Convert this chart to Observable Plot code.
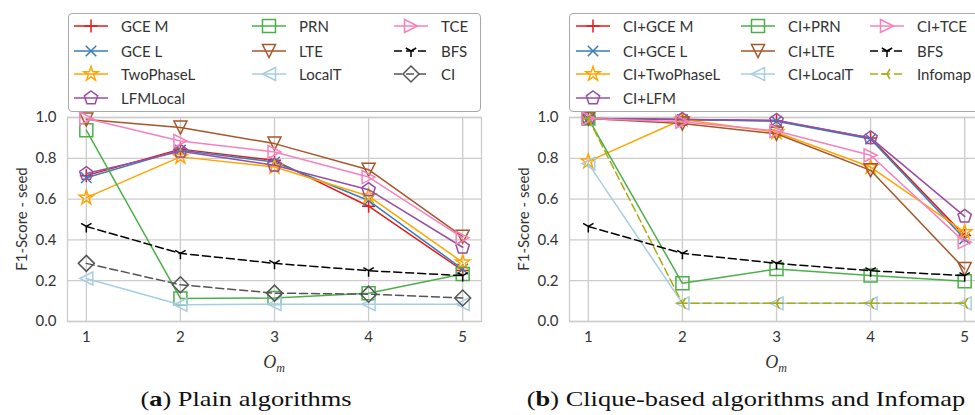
<!DOCTYPE html>
<html>
<head>
<meta charset="utf-8">
<script src="https://cdn.jsdelivr.net/npm/d3@7"></script>
<script src="https://cdn.jsdelivr.net/npm/@observablehq/plot@0.6"></script>
<style>
  html, body { margin: 0; padding: 0; background: #fff; }
  #root { position: relative; width: 975px; height: 415px; overflow: hidden; font-family: Lato, "DejaVu Sans", sans-serif; color: #333; }
  .panel { position: absolute; top: 0; }
  .legend { position: absolute; border: 1px solid #a8a8a8; border-radius: 4px; background: #fff; box-sizing: border-box; }
  .entry { position: absolute; height: 18px; display: flex; align-items: center; font-size: 15px; white-space: nowrap; color: #333; }
  .entry svg { overflow: visible; }
  .xlab { position: absolute; font-family: "Liberation Serif", serif; font-style: italic; font-size: 18px; color: #333; transform: translate(-50%, -50%); }
  .xlab sub { font-size: 12px; }
  .ylab { position: absolute; font-size: 15px; color: #333; white-space: nowrap; transform: translate(-50%, -50%) rotate(-90deg); }
  .cap { position: absolute; font-family: "Liberation Serif", "DejaVu Serif", serif; font-size: 22px; color: #111; transform: translate(-50%, -50%) scaleX(1.2); white-space: nowrap; }
</style>
</head>
<body>
<div id="root"></div>
<script>
// ---------- data ----------
const om = [1, 2, 3, 4, 5];
const yTicks = [0, 0.2, 0.4, 0.6, 0.8, 1.0];

// (a) Plain algorithms
const plainNames = ["GCE M", "GCE L", "TwoPhaseL", "LFMLocal", "PRN", "LTE", "LocalT", "TCE", "BFS", "CI"];
const plainGceM      = [0.715, 0.845, 0.790, 0.565, 0.250];
const plainGceL      = [0.705, 0.840, 0.782, 0.593, 0.257];
const plainTwoPhaseL = [0.607, 0.807, 0.757, 0.615, 0.290];
const plainLFMLocal  = [0.725, 0.834, 0.766, 0.646, 0.364];
const plainPRN       = [0.938, 0.113, 0.115, 0.139, 0.233];
const plainLTE       = [0.990, 0.951, 0.872, 0.744, 0.416];
const plainLocalT    = [0.211, 0.082, 0.085, 0.085, 0.085];
const plainTCE       = [0.995, 0.885, 0.831, 0.708, 0.410];
const bfsValues      = [0.466, 0.334, 0.285, 0.249, 0.225];
const plainCI        = [0.285, 0.180, 0.139, 0.134, 0.115];

// (b) Clique-based algorithms and Infomap
const cliqueNames = ["CI+GCE M", "CI+GCE L", "CI+TwoPhaseL", "CI+LFM", "CI+PRN", "CI+LTE", "CI+LocalT", "CI+TCE", "BFS", "Infomap"];
const ciGceM      = [0.995, 0.990, 0.984, 0.900, 0.421];
const ciGceL      = [0.995, 0.990, 0.982, 0.895, 0.405];
const ciTwoPhaseL = [0.785, 0.990, 0.928, 0.757, 0.438];
const ciLFM       = [0.995, 0.990, 0.986, 0.900, 0.515];
const ciPRN       = [0.995, 0.187, 0.257, 0.225, 0.197];
const ciLTE       = [0.995, 0.970, 0.920, 0.741, 0.257];
const ciLocalT    = [0.774, 0.089, 0.089, 0.089, 0.089];
const ciTCE       = [0.995, 0.979, 0.934, 0.815, 0.389];
const infomap     = [0.995, 0.089, 0.089, 0.089, 0.089];

// ---------- styles ----------
const colors = ["#e41a1c", "#377eb8", "#ffa500", "#984ea3", "#4daf4a", "#a65628", "#a6cee3", "#f781bf", "#000000"];
const ciColor = "#555555";
const infomapColor = "#aaaa11";

const sym = (f) => ({ draw(ctx, size) { f(ctx, Math.sqrt(size / Math.PI)); } });
const symPlus = sym((c, r) => { c.moveTo(-r, 0); c.lineTo(r, 0); c.moveTo(0, -r); c.lineTo(0, r); });
const symX = sym((c, r) => { const k = r * 0.75; c.moveTo(-k, -k); c.lineTo(k, k); c.moveTo(-k, k); c.lineTo(k, -k); });
const symStar = sym((c, r) => {
  const ri = r * 0.382;
  for (let i = 0; i < 10; i++) {
    const a = -Math.PI / 2 + i * Math.PI / 5, rr = i % 2 ? ri : r;
    const x = rr * Math.cos(a), y = rr * Math.sin(a);
    i ? c.lineTo(x, y) : c.moveTo(x, y);
  }
  c.closePath();
});
const symPent = sym((c, r) => {
  for (let i = 0; i < 5; i++) {
    const a = -Math.PI / 2 + i * 2 * Math.PI / 5;
    const x = r * Math.cos(a), y = r * Math.sin(a);
    i ? c.lineTo(x, y) : c.moveTo(x, y);
  }
  c.closePath();
});
const symSquare = sym((c, r) => { c.moveTo(-r, -r); c.lineTo(r, -r); c.lineTo(r, r); c.lineTo(-r, r); c.closePath(); });
const symTriDown = sym((c, r) => { c.moveTo(0, r); c.lineTo(-r, -r); c.lineTo(r, -r); c.closePath(); });
const symTriLeft = sym((c, r) => { c.moveTo(-r, 0); c.lineTo(r, -r); c.lineTo(r, r); c.closePath(); });
const symTriRight = sym((c, r) => { c.moveTo(r, 0); c.lineTo(-r, -r); c.lineTo(-r, r); c.closePath(); });
const symY = sym((c, r) => { c.moveTo(0, 0); c.lineTo(0, r); c.moveTo(0, 0); c.lineTo(0.866 * r, -0.5 * r); c.moveTo(0, 0); c.lineTo(-0.866 * r, -0.5 * r); });
const symYLeft = sym((c, r) => { c.moveTo(0, 0); c.lineTo(-r, 0); c.moveTo(0, 0); c.lineTo(0.5 * r, -0.866 * r); c.moveTo(0, 0); c.lineTo(0.5 * r, 0.866 * r); });
const symDiamond = sym((c, r) => { c.moveTo(0, -r); c.lineTo(r, 0); c.lineTo(0, r); c.lineTo(-r, 0); c.closePath(); });

const symbols = [symPlus, symX, symStar, symPent, symSquare, symTriDown, symTriLeft, symTriRight, symY];
const radii = [6.5, 7, 7.5, 7, 6.5, 6.5, 6.5, 6.5, 6];

const plainSeries = [plainGceM, plainGceL, plainTwoPhaseL, plainLFMLocal, plainPRN, plainLTE, plainLocalT, plainTCE, bfsValues, plainCI]
  .map((values, i) => ({
    name: plainNames[i], values,
    color: i < 9 ? colors[i] : ciColor,
    symbol: i < 9 ? symbols[i] : symDiamond,
    r: i < 9 ? radii[i] : 8,
    dash: i >= 8 ? "8,4" : null
  }));
const cliqueSeries = [ciGceM, ciGceL, ciTwoPhaseL, ciLFM, ciPRN, ciLTE, ciLocalT, ciTCE, bfsValues, infomap]
  .map((values, i) => ({
    name: cliqueNames[i], values,
    color: i < 9 ? colors[i] : infomapColor,
    symbol: i < 9 ? symbols[i] : symYLeft,
    r: i < 9 ? radii[i] : 6,
    dash: i >= 8 ? "8,4" : null
  }));

// ---------- panels ----------
function makePanel(series, left, marginLeft, width) {
  const marks = [
    Plot.gridX(om, { stroke: "#cccccc", strokeOpacity: 1, strokeWidth: 1.3 }),
    Plot.gridY(yTicks, { stroke: "#cccccc", strokeOpacity: 1, strokeWidth: 1.3 }),
    Plot.frame({ stroke: "#cccccc", strokeWidth: 1.3 }),
    Plot.axisX(om, { tickSize: 0, tickPadding: 10, label: null, fontSize: 15 }),
    Plot.axisY(yTicks, { tickSize: 0, tickPadding: 11, tickFormat: (d) => d.toFixed(1), fontSize: 15, label: null })
  ];
  for (const s of series) {
    const data = om.map((x, i) => ({ x, y: s.values[i] }));
    marks.push(Plot.line(data, { x: "x", y: "y", stroke: s.color, strokeWidth: 1.5, strokeDasharray: s.dash }));
    marks.push(Plot.dot(data, { x: "x", y: "y", symbol: s.symbol, r: s.r, stroke: s.color, fill: "none", strokeWidth: 1.5 }));
  }
  const svg = Plot.plot({
    width, height: 345,
    marginLeft, marginRight: width - marginLeft - 414, marginTop: 117, marginBottom: 24,
    x: { domain: [0.8, 5.2] },
    y: { domain: [0, 1] },
    style: { fontFamily: "Lato, 'DejaVu Sans', sans-serif", fontSize: "15px", color: "#333", background: "transparent", overflow: "visible" },
    marks
  });
  svg.classList.add("panel");
  svg.style.left = left + "px";
  return svg;
}

const root = document.getElementById("root");
root.appendChild(makePanel(plainSeries, 0, 67, 487));
root.appendChild(makePanel(cliqueSeries, 500, 69, 489));

// ---------- legends ----------
function addLegend(series, box, lineXs, textXs, rowYs) {
  const lg = document.createElement("div");
  lg.className = "legend";
  Object.assign(lg.style, { left: box[0] + "px", top: box[1] + "px", width: box[2] + "px", height: box[3] + "px" });
  root.appendChild(lg);
  const perCol = [4, 3, 3];
  let idx = 0;
  perCol.forEach((n, col) => {
    for (let row = 0; row < n; row++, idx++) {
      const s = series[idx];
      const e = document.createElement("div");
      e.className = "entry";
      e.style.left = lineXs[col] + "px";
      e.style.top = (rowYs[row] - 9) + "px";
      const p = d3.path();
      s.symbol.draw(p, s.r * s.r * Math.PI);
      e.innerHTML = `<svg width="34" height="18"><line x1="0" x2="34" y1="9" y2="9" stroke="${s.color}" stroke-width="1.5" ${s.dash ? `stroke-dasharray="${s.dash}"` : ""}/><path transform="translate(17,9)" d="${p.toString()}" fill="none" stroke="${s.color}" stroke-width="1.5"/></svg><span style="margin-left:${textXs[col] - lineXs[col] - 34}px">${s.name}</span>`;
      root.appendChild(e);
    }
  });
}
addLegend(plainSeries, [68, 13, 413, 99], [74, 252, 394], [121, 299, 441], [26, 51, 74, 98]);
addLegend(cliqueSeries, [569, 13, 420, 99], [576, 741, 870], [623, 788, 917], [26, 51, 74, 98]);

// ---------- labels & captions ----------
function addHTML(cls, x, y, html) {
  const d = document.createElement("div");
  d.className = cls; d.style.left = x + "px"; d.style.top = y + "px"; d.innerHTML = html;
  root.appendChild(d);
}
addHTML("ylab", 21, 219, "F1-Score - seed");
addHTML("ylab", 523, 219, "F1-Score - seed");
addHTML("xlab", 274, 364, "O<sub>m</sub>");
addHTML("xlab", 776, 364, "O<sub>m</sub>");
addHTML("cap", 246, 399, "(<b>a</b>) Plain algorithms");
addHTML("cap", 746, 399, "(<b>b</b>) Clique-based algorithms and Infomap");
</script>
</body>
</html>
